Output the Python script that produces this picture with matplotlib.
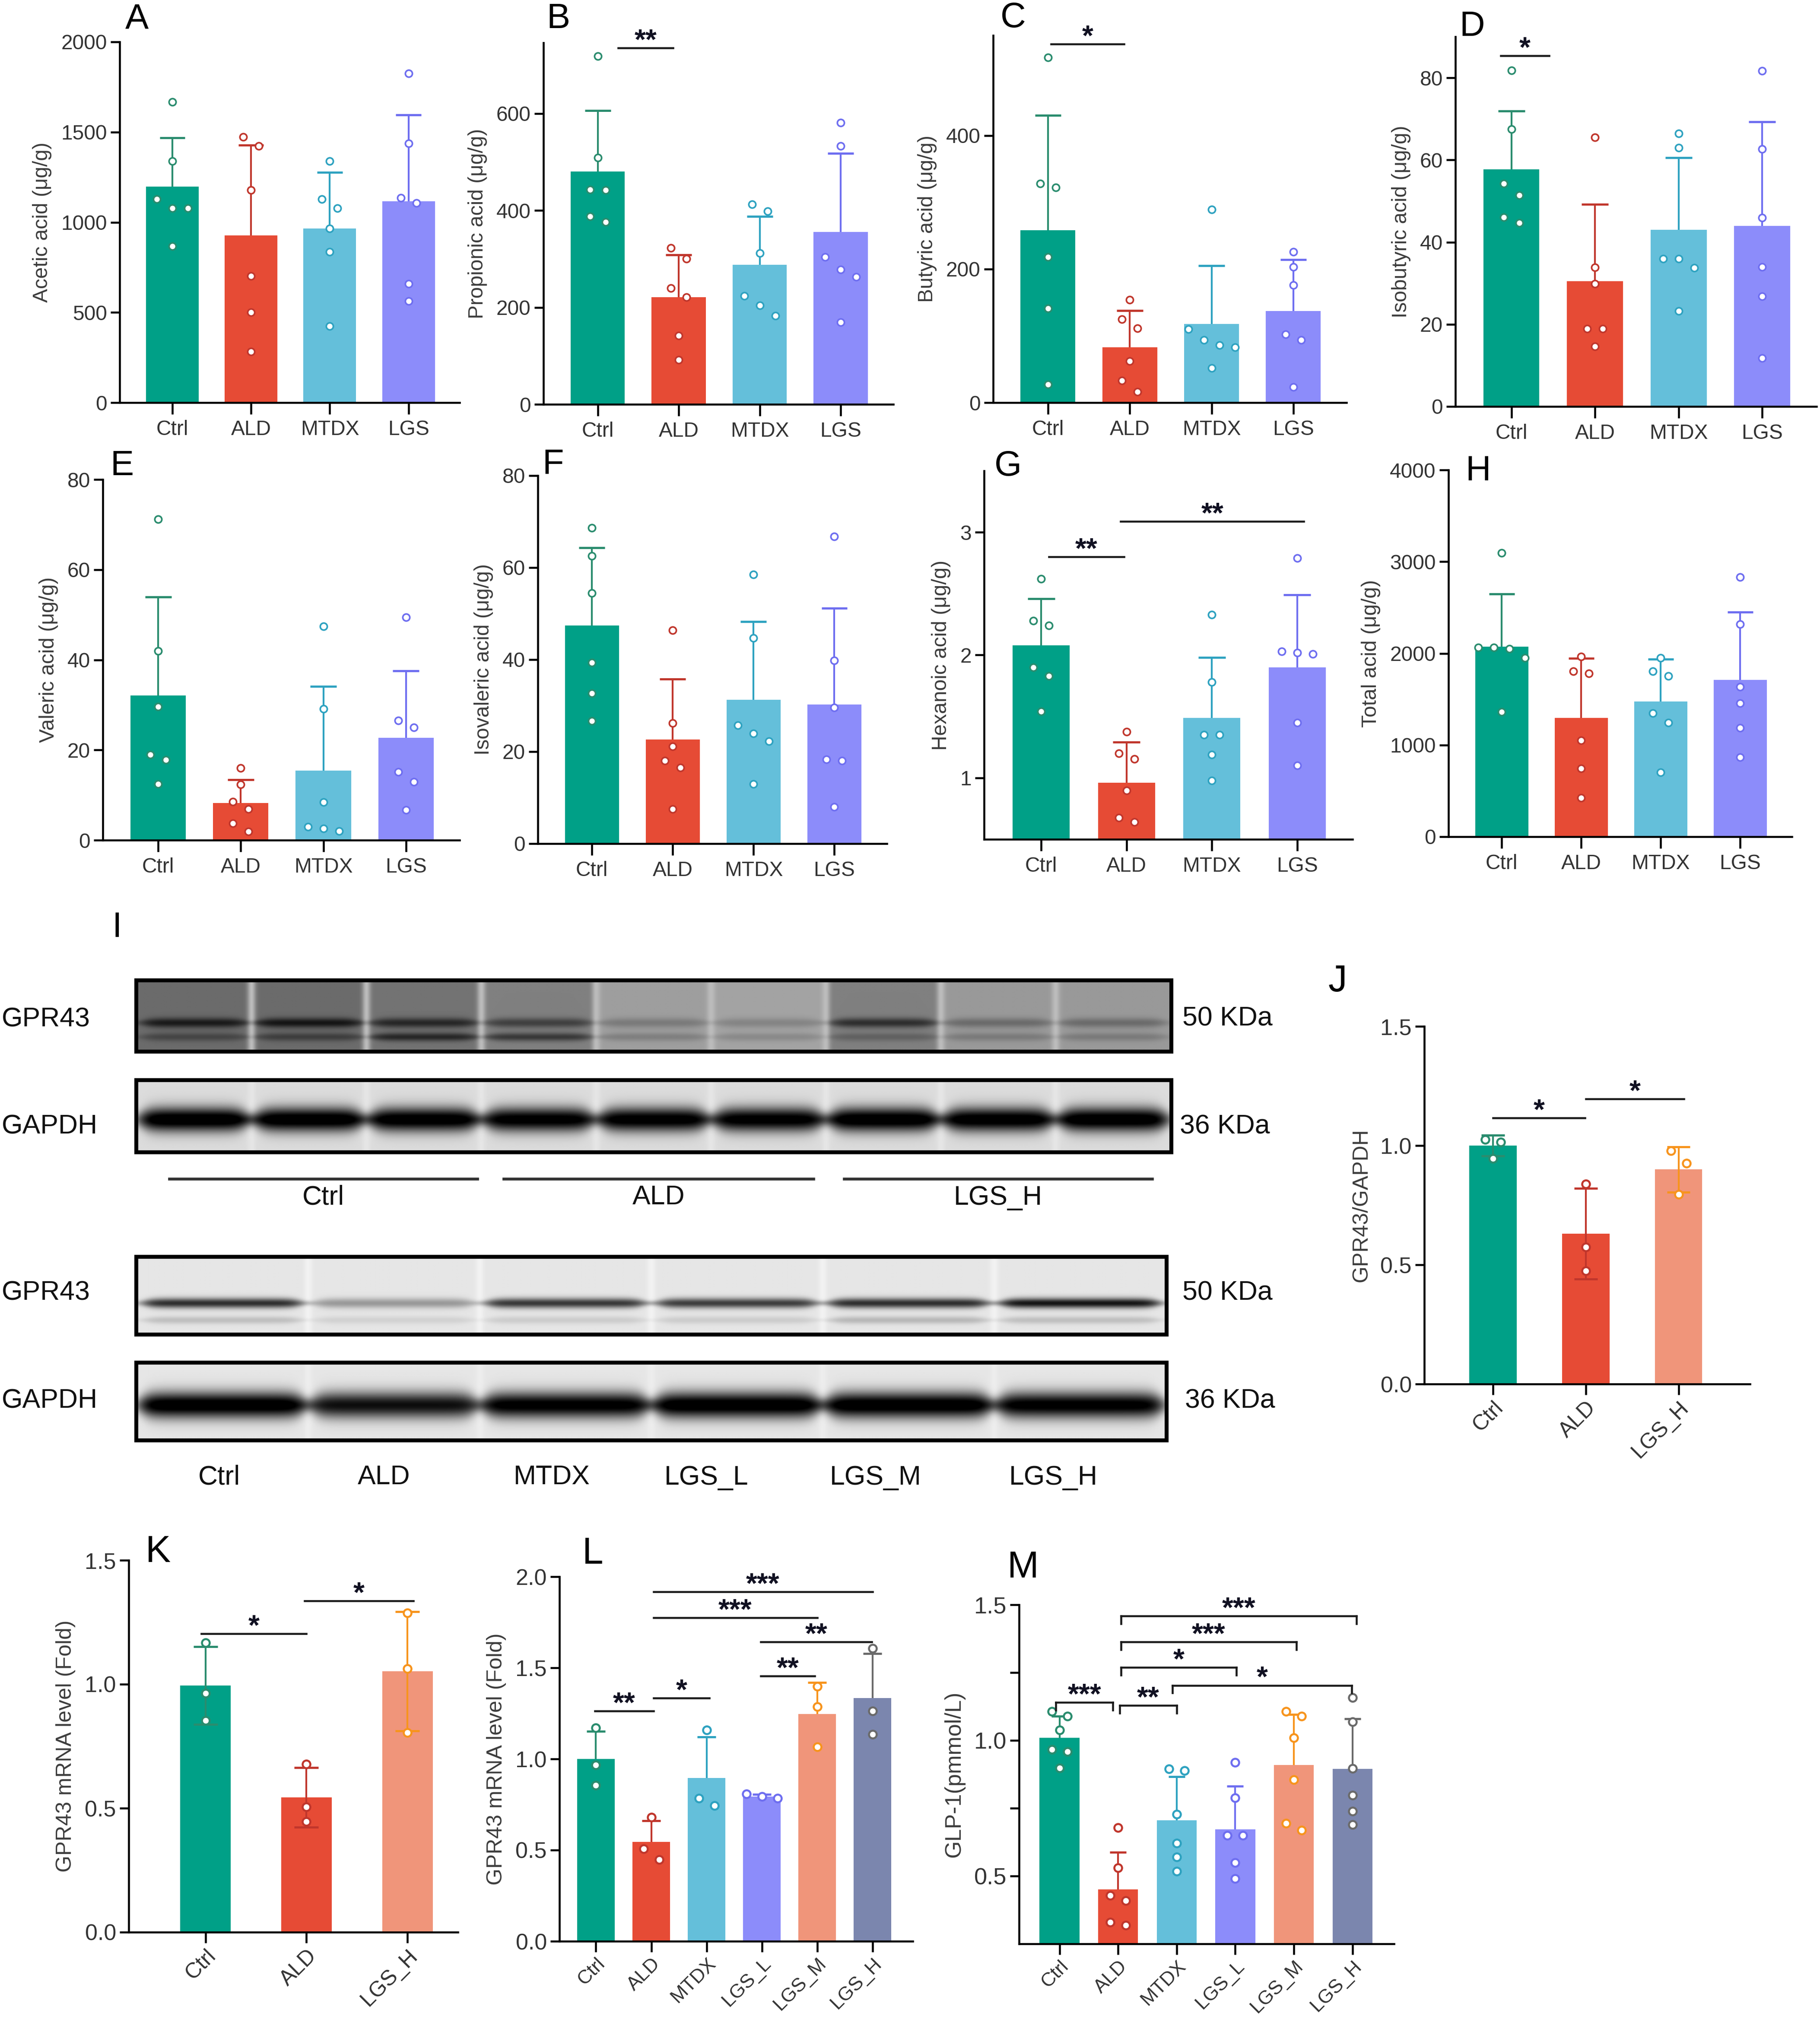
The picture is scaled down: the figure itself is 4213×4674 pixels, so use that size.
import numpy as np
import matplotlib.pyplot as plt
from matplotlib.patches import Rectangle

plt.rcParams['font.family'] = ['Liberation Sans', 'DejaVu Sans']

W, H = 4213, 4674
fig = plt.figure(figsize=(W / 300, H / 300), dpi=300)


def rect(l, t, r, b):
    return [l / W, 1 - b / H, (r - l) / W, (b - t) / H]


# ---------------- data ----------------
groups4 = ['Ctrl', 'ALD', 'MTDX', 'LGS']
groups3 = ['Ctrl', 'ALD', 'LGS_H']
groups6 = ['Ctrl', 'ALD', 'MTDX', 'LGS_L', 'LGS_M', 'LGS_H']

acetic_mean = [1198, 926, 965, 1115]
acetic_sd = [271, 501, 312, 480]
acetic_pts = [[1666, 1340, 1128, 1079, 1079, 866], [1472, 1422, 1178, 702, 501, 283],
              [1340, 1128, 1079, 965, 835, 425], [1824, 1438, 1135, 1107, 658, 564]]

propionic_mean = [480, 221, 288, 356]
propionic_sd = [126, 87, 100, 162]
propionic_pts = [[718, 509, 443, 442, 388, 376], [323, 300, 240, 221, 142, 92],
                 [413, 398, 312, 224, 204, 183], [581, 533, 304, 278, 263, 169]]

butyric_mean = [258, 83, 118, 137]
butyric_sd = [172, 55, 87, 77]
butyric_pts = [[517, 328, 322, 218, 141, 27], [154, 125, 111, 62, 33, 16],
               [289, 110, 94, 86, 83, 52], [226, 203, 176, 102, 94, 23]]

isobutyric_mean = [57.7, 30.5, 43.0, 44.0]
isobutyric_sd = [14.2, 18.7, 17.6, 25.3]
isobutyric_pts = [[81.8, 67.5, 54.2, 51.4, 46.1, 44.7], [65.5, 33.9, 29.9, 18.9, 18.9, 14.6],
                  [66.5, 63.0, 36.0, 36.0, 33.8, 23.2], [81.7, 62.7, 45.9, 34.0, 26.8, 11.8]]

valeric_mean = [32.1, 8.2, 15.4, 22.7]
valeric_sd = [21.8, 5.2, 18.7, 14.9]
valeric_pts = [[71.2, 42.0, 29.6, 19.0, 17.8, 12.5], [16.0, 12.4, 8.5, 6.9, 3.7, 1.9],
               [47.4, 29.1, 8.4, 3.0, 2.6, 2.0], [49.4, 26.5, 25.0, 15.1, 12.9, 6.7]]

isovaleric_mean = [47.4, 22.6, 31.3, 30.2]
isovaleric_sd = [16.9, 13.2, 17.0, 21.0]
isovaleric_pts = [[68.6, 62.5, 54.5, 39.3, 32.7, 26.7], [46.4, 26.2, 21.1, 18.0, 16.5, 7.5],
                  [58.5, 44.7, 25.7, 23.9, 22.3, 13.0], [66.8, 39.8, 29.6, 18.3, 18.0, 8.0]]

hexanoic_mean = [2.08, 0.96, 1.49, 1.90]
hexanoic_sd = [0.38, 0.33, 0.49, 0.59]
hexanoic_pts = [[2.62, 2.28, 2.24, 1.90, 1.83, 1.54], [1.375, 1.20, 1.155, 0.896, 0.676, 0.64],
                [2.33, 1.78, 1.35, 1.35, 1.19, 0.977], [2.79, 2.03, 2.02, 2.01, 1.45, 1.10]]

total_mean = [2074, 1294, 1477, 1709]
total_sd = [573, 650, 458, 743]
total_pts = [[3096, 2065, 2065, 2050, 1950, 1362], [1966, 1805, 1780, 1053, 743, 424],
             [1950, 1805, 1755, 1347, 1245, 703], [2833, 2316, 1635, 1455, 1186, 867]]

j_mean = [1.00, 0.63, 0.90]
j_sd = [0.043, 0.19, 0.095]
j_pts = [[1.026, 1.015, 0.946], [0.838, 0.575, 0.475], [0.978, 0.925, 0.796]]

k_mean = [0.995, 0.543, 1.052]
k_sd = [0.157, 0.12, 0.24]
k_pts = [[1.167, 0.963, 0.854], [0.678, 0.506, 0.446], [1.287, 1.063, 0.805]]

l_mean = [1.0, 0.546, 0.895, 0.794, 1.246, 1.335]
l_sd = [0.152, 0.115, 0.227, 0.012, 0.174, 0.243]
l_pts = [[1.17, 0.966, 0.856], [0.679, 0.507, 0.447], [1.158, 0.785, 0.745],
         [0.808, 0.794, 0.785], [1.397, 1.286, 1.066], [1.606, 1.264, 1.135]]

m_mean = [1.009, 0.45, 0.705, 0.672, 0.909, 0.895]
m_sd = [0.08, 0.137, 0.161, 0.16, 0.186, 0.185]
m_pts = [[1.106, 1.089, 1.038, 0.967, 0.958, 0.898], [0.678, 0.53, 0.429, 0.41, 0.33, 0.318],
         [0.895, 0.888, 0.728, 0.621, 0.57, 0.518], [0.918, 0.789, 0.65, 0.65, 0.549, 0.49],
         [1.106, 1.089, 1.009, 0.855, 0.695, 0.669], [1.158, 1.069, 0.897, 0.798, 0.739, 0.69]]

# western blot band strengths (darkness per lane)
wb1_gpr43_main = [0.32, 0.34, 0.30, 0.25, 0.14, 0.12, 0.32, 0.18, 0.18]
wb1_gpr43_low = [0.15, 0.18, 0.30, 0.28, 0.12, 0.10, 0.12, 0.12, 0.12]
wb1_gpr43_bg = [0.42, 0.42, 0.45, 0.50, 0.62, 0.64, 0.50, 0.60, 0.60]
wb1_gapdh = [0.98, 0.97, 0.95, 0.92, 0.93, 0.92, 0.97, 0.95, 0.97]
wb2_gpr43_main = [0.72, 0.30, 0.68, 0.66, 0.72, 0.82]
wb2_gpr43_low = [0.15, 0.08, 0.10, 0.10, 0.18, 0.15]
wb2_gapdh = [1.0, 0.85, 0.95, 1.0, 1.0, 0.95]
wb1_groups = ['Ctrl', 'ALD', 'LGS_H']

# ---------------- colours ----------------
teal, red, blue, purple = '#00A087', '#E64B35', '#64BFDA', '#8C8CFA'
salmon, slate = '#F0957A', '#7B86AE'
teal_d, red_d, blue_d, purple_d = '#2A8C6E', '#C0362C', '#2EA2C0', '#6E6EF0'
orange, gray_d = '#F7941D', '#6A6A6A'
fill4 = [teal, red, blue, purple]
edge4 = [teal_d, red_d, blue_d, purple_d]
fill3 = [teal, red, salmon]
edge3 = [teal_d, red_d, orange]
fill6 = [teal, red, blue, purple, salmon, slate]
edge6 = [teal_d, red_d, blue_d, purple_d, orange, gray_d]


def swarm(ax, x0, vals, d_px=36, thr_px=30):
    vals = np.asarray(vals, float)
    tr = ax.transData
    ypx = tr.transform(np.column_stack([np.zeros(len(vals)), vals]))[:, 1]
    per = tr.transform([[1, 0]])[0, 0] - tr.transform([[0, 0]])[0, 0]
    order = np.argsort(-ypx, kind='stable')
    clusters, cur = [], [order[0]]
    for i in order[1:]:
        if abs(ypx[cur[-1]] - ypx[i]) < thr_px:
            cur.append(i)
        else:
            clusters.append(cur)
            cur = [i]
    clusters.append(cur)
    xs = np.zeros(len(vals))
    for c in clusters:
        n = len(c)
        for k, i in enumerate(c):
            xs[i] = x0 + (k - (n - 1) / 2) * d_px / per
    return xs


def panel(box, means, sds, pts, fills, edges, ylim, yticks, ylabel, labels, xlim,
          width=0.67, cap=0.16, lower=False, rot=0, tfs=11.5, xfs=None, lfs=11.5, fmt=None,
          minor=None, ms=3.9, mew=0.9):
    ax = fig.add_axes(rect(*box))
    ax.set_xlim(*xlim)
    ax.set_ylim(*ylim)
    x = np.arange(len(means))
    ax.bar(x, means, width=width, color=fills, zorder=1)
    for i in range(len(means)):
        top = means[i] + sds[i]
        bot = means[i] - sds[i] if lower else means[i]
        ax.vlines(x[i], bot, top, color=edges[i], lw=1.0, zorder=2)
        ax.hlines(top, x[i] - cap, x[i] + cap, color=edges[i], lw=1.2, zorder=2)
        if lower:
            ax.hlines(bot, x[i] - cap, x[i] + cap, color=edges[i], lw=1.2, zorder=2)
        xs = swarm(ax, x[i], pts[i])
        ax.plot(xs, pts[i], 'o', ms=ms, mfc='white', mec=edges[i], mew=mew,
                zorder=3, clip_on=False)
    for s in ['top', 'right']:
        ax.spines[s].set_visible(False)
    for s in ['left', 'bottom']:
        ax.spines[s].set_linewidth(1.1)
    xfs = xfs or tfs
    ax.set_xticks(x)
    if rot:
        ax.set_xticklabels(labels, rotation=rot, ha='right', rotation_mode='anchor',
                           fontsize=xfs, color='#333333')
    else:
        ax.set_xticklabels(labels, fontsize=xfs, color='#333333')
    ax.set_yticks(yticks)
    if fmt:
        ax.set_yticklabels([fmt.format(v) for v in yticks])
    if minor is not None:
        ax.set_yticks(minor, minor=True)
        ax.tick_params(axis='y', which='minor', length=5, width=1.1)
    ax.tick_params(axis='x', length=6 if rot else 6.5, width=1.1, pad=1.5 if rot else 3)
    ax.tick_params(axis='y', which='major', length=5, width=1.1, pad=2,
                   labelsize=tfs, labelcolor='#333333')
    ax.set_ylabel(ylabel, fontsize=lfs, color='#3c3c3c', labelpad=5)
    return ax


def sig(ax, items, fs=16, tick=None):
    for x1, x2, y, s in items:
        ax.plot([x1, x2], [y, y], color='#1a1a1a', lw=1.1, clip_on=False, zorder=4)
        if tick:
            for xe in (x1, x2):
                ax.plot([xe, xe], [y, y - tick], color='#1a1a1a', lw=1.1,
                        clip_on=False, zorder=4)
        ax.annotate(s, ((x1 + x2) / 2, y), xytext=(0, -0.5), textcoords='offset points',
                    ha='center', va='baseline', fontsize=fs, fontweight='bold',
                    color='#111122')


def blot_image(lane_bg, bands, sep, nx=900, ny=120):
    n = len(lane_bg)
    xx = np.linspace(0, 1, nx)
    yy = np.linspace(0, 1, ny)
    lane = np.clip((xx * n).astype(int), 0, n - 1)
    bg = np.asarray(lane_bg, float)[lane]
    sepm = np.zeros(nx)
    for b in np.arange(1, n) / n:
        sepm += np.exp(-((xx - b) / 0.004) ** 2)
    bg = bg + (sep - bg) * np.clip(sepm, 0, 1)
    img = np.tile(bg, (ny, 1))
    for yc, sg, inten, hw in bands:
        for i in range(n):
            c = (i + 0.5) / n
            p = 0.5 * (np.tanh((xx - (c - hw / n)) / 0.01) - np.tanh((xx - (c + hw / n)) / 0.01))
            s = sg * (0.4 + 0.6 * p)
            g = np.exp(-((yy[:, None] - yc) / s[None, :]) ** 2)
            img -= inten[i] * p[None, :] * g
    return np.clip(img, 0, 1)


# ---------------- western blot (overlay in pixel coords) ----------------
axw = fig.add_axes([0, 0, 1, 1])
axw.set_xlim(0, W)
axw.set_ylim(H, 0)
axw.axis('off')

blots = [
    ((315, 2269, 2711, 2434), blot_image(wb1_gpr43_bg, [(0.6, 0.07, wb1_gpr43_main, 0.45),
                                                       (0.8, 0.06, wb1_gpr43_low, 0.45)], 0.74)),
    ((315, 2500, 2711, 2667), blot_image([0.86] * 9, [(0.55, 0.17, wb1_gapdh, 0.47)], 0.9)),
    ((315, 2909, 2700, 3089), blot_image([0.9] * 6, [(0.6, 0.065, wb2_gpr43_main, 0.46),
                                                    (0.82, 0.05, wb2_gpr43_low, 0.45)], 0.95)),
    ((315, 3154, 2700, 3334), blot_image([0.9] * 6, [(0.55, 0.17, wb2_gapdh, 0.48)], 0.93)),
]
for (l, t, r, b), img in blots:
    axw.imshow(img, extent=(l, r, b, t), cmap='gray', vmin=0, vmax=1, aspect='auto',
               interpolation='bilinear')
    axw.add_patch(Rectangle((l, t), r - l, b - t, fill=False, ec='black', lw=2.2))

for txt, y in [('GPR43', 2360), ('GAPDH', 2608), ('GPR43', 2993), ('GAPDH', 3243)]:
    axw.text(4, y, txt, fontsize=15, ha='left', va='center', color='#111111')
for txt, xx, y in [('50 KDa', 2737, 2358), ('36 KDa', 2731, 2608),
                   ('50 KDa', 2737, 2993), ('36 KDa', 2743, 3243)]:
    axw.text(xx, y, txt, fontsize=15, ha='left', va='center', color='#111111')

for g, (x1, x2) in zip(wb1_groups, [(392, 1105), (1166, 1883), (1954, 2667)]):
    axw.plot([x1, x2], [2729, 2729], color='#333333', lw=1.6)
    axw.text((x1 + x2) / 2, 2772, g, fontsize=15, ha='center', va='center', color='#111111')
for g, xx in zip(groups6, [507, 889, 1277, 1635, 2027, 2438]):
    axw.text(xx, 3420, g, fontsize=15, ha='center', va='center', color='#111111')

# ---------------- SCFA panels ----------------
xl4 = (-0.67, 3.65)
ax = panel((277, 97, 1064, 932), acetic_mean, acetic_sd, acetic_pts, fill4, edge4,
           (0, 2000), [0, 500, 1000, 1500, 2000], 'Acetic acid (μg/g)', groups4, xl4)
ax = panel((1258, 99, 2068, 936), propionic_mean, propionic_sd, propionic_pts, fill4, edge4,
           (0, 746), [0, 200, 400, 600], 'Propionic acid (μg/g)', groups4, xl4)
sig(ax, [(0.25, 0.93, 735, '**')])
ax = panel((2299, 82, 3117, 932), butyric_mean, butyric_sd, butyric_pts, fill4, edge4,
           (0, 550), [0, 200, 400], 'Butyric acid (μg/g)', groups4, xl4)
sig(ax, [(0.04, 0.93, 537, '*')])
ax = panel((3369, 85, 4205, 941), isobutyric_mean, isobutyric_sd, isobutyric_pts, fill4, edge4,
           (0, 90), [0, 20, 40, 60, 80], 'Isobutyric acid (μg/g)', groups4, xl4)
sig(ax, [(-0.13, 0.45, 85.4, '*')])

ax = panel((238, 1110, 1064, 1945), valeric_mean, valeric_sd, valeric_pts, fill4, edge4,
           (0, 80), [0, 20, 40, 60, 80], 'Valeric acid (μg/g)', groups4, xl4)
ax = panel((1245, 1101, 2053, 1953), isovaleric_mean, isovaleric_sd, isovaleric_pts, fill4, edge4,
           (0, 80), [0, 20, 40, 60, 80], 'Isovaleric acid (μg/g)', groups4, xl4)
ax = panel((2278, 1090, 3131, 1943), hexanoic_mean, hexanoic_sd, hexanoic_pts, fill4, edge4,
           (0.5, 3.5), [1, 2, 3], 'Hexanoic acid (μg/g)', groups4, xl4)
sig(ax, [(0.09, 0.97, 2.8, '**'), (0.93, 3.08, 3.09, '**')])
ax = panel((3353, 1088, 4148, 1937), total_mean, total_sd, total_pts, fill4, edge4,
           (0, 4000), [0, 1000, 2000, 3000, 4000], 'Total acid (μg/g)', groups4, xl4)

# ---------------- J, K, L, M ----------------
ax = panel((3297, 2376, 4051, 3204), j_mean, j_sd, j_pts, fill3, edge3,
           (0, 1.5), [0, 0.5, 1.0, 1.5], 'GPR43/GAPDH', groups3, (-0.74, 2.77),
           width=0.51, cap=0.125, lower=True, rot=45, tfs=12.5, xfs=12, lfs=12, fmt='{:.1f}',
           ms=4.3, mew=1.1)
sig(ax, [(0.0, 0.99, 1.116, '*'), (1.0, 2.06, 1.196, '*')])

ax = panel((298, 3612, 1060, 4473), k_mean, k_sd, k_pts, fill3, edge3,
           (0, 1.5), [0, 0.5, 1.0, 1.5], 'GPR43 mRNA level (Fold)', groups3, (-0.76, 2.5),
           width=0.5, cap=0.12, lower=True, rot=45, tfs=12.5, xfs=12, lfs=12, fmt='{:.1f}',
           ms=4.3, mew=1.1)
sig(ax, [(-0.04, 1.0, 1.203, '*'), (0.98, 2.06, 1.337, '*')])

ax = panel((1295, 3650, 2113, 4494), l_mean, l_sd, l_pts, fill6, edge6,
           (0, 2.0), [0, 0.5, 1.0, 1.5, 2.0], 'GPR43 mRNA level (Fold)', groups6, (-0.66, 5.73),
           width=0.68, cap=0.17, rot=45, tfs=12.5, xfs=10.8, lfs=12, fmt='{:.1f}', ms=4.3, mew=1.1)
sig(ax, [(-0.02, 1.04, 1.262, '**'), (1.04, 2.05, 1.333, '*'), (2.98, 3.96, 1.454, '**'),
         (2.98, 4.99, 1.642, '**'), (1.04, 4.0, 1.775, '***'), (1.04, 5.0, 1.917, '***')])

ax = panel((2359, 3715, 3227, 4500), m_mean, m_sd, m_pts, fill6, edge6,
           (0.25, 1.5), [0.5, 1.0, 1.5], 'GLP-1(pmmol/L)', groups6, (-0.69, 5.71),
           width=0.68, cap=0.14, rot=45, tfs=13, xfs=10.8, lfs=12.5, fmt='{:.1f}',
           minor=[0.75, 1.25], ms=4.3, mew=1.1)
sig(ax, [(-0.06, 0.91, 1.14, '***'), (1.03, 2.0, 1.129, '**'), (1.93, 4.99, 1.203, '*'),
         (1.05, 3.02, 1.269, '*'), (1.05, 4.04, 1.363, '***'), (1.05, 5.07, 1.458, '***')],
    tick=0.028)

# ---------------- panel letters ----------------
for s, xx, y, fs in [('A', 317, 44, 19.5), ('B', 1292, 44, 19.5), ('C', 2345, 42, 19.5),
                     ('D', 3408, 62, 19.5), ('E', 282, 1079, 19.5), ('F', 1280, 1076, 19.5),
                     ('G', 2334, 1080, 19.5), ('H', 3422, 1091, 19.5), ('I', 271, 2148, 19.5),
                     ('J', 3096, 2272, 21), ('K', 366, 3594, 21), ('L', 1372, 3598, 21),
                     ('M', 2368, 3630, 21)]:
    fig.text(xx / W, 1 - y / H, s, fontsize=fs, ha='center', va='center', color='black')

fig.savefig('out.png', dpi=300)
